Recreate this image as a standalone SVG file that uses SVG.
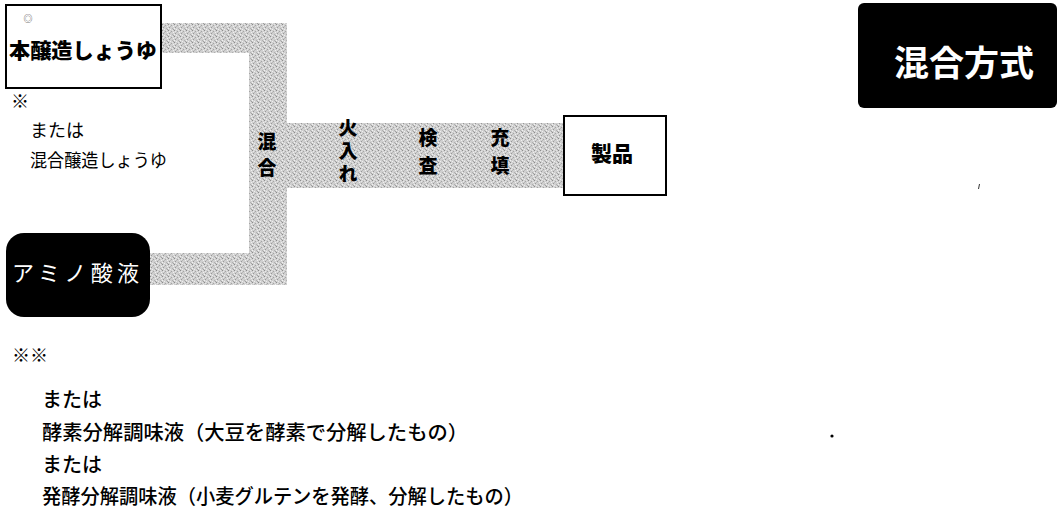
<svg xmlns="http://www.w3.org/2000/svg" width="1061" height="511" viewBox="0 0 1061 511">
<defs>
<pattern id="stip" width="6" height="6" patternUnits="userSpaceOnUse">
<rect width="6" height="6" fill="#d0d0d0"/>
<rect x="0" y="0" width="1" height="1" fill="#8c8c8c"/>
<rect x="3" y="1" width="1" height="1" fill="#a4a4a4"/>
<rect x="5" y="2" width="1" height="1" fill="#f0f0f0"/>
<rect x="1" y="3" width="1" height="1" fill="#999"/>
<rect x="4" y="4" width="1" height="1" fill="#b0b0b0"/>
<rect x="2" y="5" width="1" height="1" fill="#eee"/>
<rect x="1" y="1" width="1" height="1" fill="#e8e8e8"/>
<rect x="4" y="0" width="1" height="1" fill="#e4e4e4"/>
<rect x="0" y="4" width="1" height="1" fill="#f2f2f2"/>
<rect x="5" y="5" width="1" height="1" fill="#a0a0a0"/>
<rect x="2" y="2" width="1" height="1" fill="#b8b8b8"/>
</pattern>
</defs>
<style>
text{font-family:"Noto Sans CJK JP","Noto Sans CJK SC",sans-serif;}
.box{fill:#fff;stroke:#000;stroke-width:2;}
.dark{fill:#000;}
.bt{font-size:21px;font-weight:900;fill:#000;}
.lbl{font-size:19px;font-weight:900;fill:#000;writing-mode:vertical-rl;}
.note{font-size:18px;fill:#000;}
.note2{font-size:20px;font-weight:500;fill:#000;}
.band{fill:url(#stip);}
</style>
<rect width="1061" height="511" fill="#fff"/>
<g id="connectors">
<rect class="band" x="160" y="23" width="127" height="30"/>
<rect class="band" x="249" y="23" width="38" height="262"/>
<rect class="band" x="150" y="253" width="137" height="32"/>
<rect class="band" x="249" y="123" width="314" height="65"/>
</g>
<g id="labels">
<text class="lbl" x="267" y="132" letter-spacing="7">混合</text>
<text class="lbl" x="348" y="118" letter-spacing="4">火入れ</text>
<text class="lbl" x="428" y="128" letter-spacing="9">検査</text>
<text class="lbl" x="500" y="128" letter-spacing="9">充填</text>
</g>
<g id="node-honjozo">
<rect class="box" x="6" y="5" width="155" height="83"/>
<text x="28" y="22" font-size="9" fill="#444" text-anchor="middle">◎</text>
<text class="bt" x="9" y="58" textLength="148" lengthAdjust="spacingAndGlyphs">本醸造しょうゆ</text>
</g>
<g id="note1">
<text class="note" x="11" y="108" font-size="20">※</text>
<text class="note" x="30" y="137">または</text>
<text class="note" x="30" y="167" textLength="137" lengthAdjust="spacingAndGlyphs">混合醸造しょうゆ</text>
</g>
<g id="node-amino">
<rect class="dark" x="6" y="233" width="144" height="84" rx="18"/>
<text x="12" y="281" font-size="22" fill="#fff" textLength="127" lengthAdjust="spacing">アミノ酸液</text>
</g>
<g id="node-seihin">
<rect class="box" x="564" y="116" width="102" height="79"/>
<text x="612" y="161" font-size="21" font-weight="900" text-anchor="middle">製品</text>
</g>
<g id="title">
<rect class="dark" x="858" y="3" width="199" height="105" rx="6"/>
<text x="964" y="76" font-size="35" font-weight="bold" fill="#fff" text-anchor="middle">混合方式</text>
</g>
<g id="marks">
<circle cx="832" cy="436" r="1.6" fill="#000"/>
<path d="M978.5 189 L979.5 184" stroke="#333" stroke-width="1"/>
</g>
<g id="note2">
<text class="note" x="12" y="362" font-size="16">※※</text>
<text class="note2" x="42" y="407">または</text>
<text class="note2" x="42" y="440" textLength="426" lengthAdjust="spacingAndGlyphs">酵素分解調味液（大豆を酵素で分解したもの）</text>
<text class="note2" x="42" y="472">または</text>
<text class="note2" x="42" y="504" textLength="481" lengthAdjust="spacingAndGlyphs">発酵分解調味液（小麦グルテンを発酵、分解したもの）</text>
</g>
</svg>
